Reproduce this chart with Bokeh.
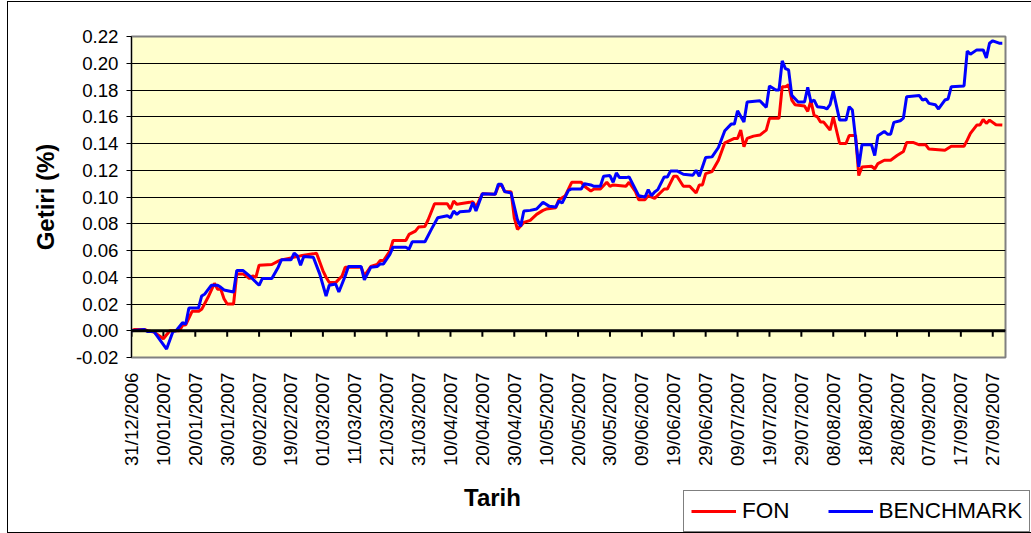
import math
import pandas as pd
from bokeh.plotting import figure
from bokeh.layouts import column
from bokeh.models import (Range1d, FixedTicker, NumeralTickFormatter, DatetimeTickFormatter,
                          Legend, LegendItem, Label, Span)
from bokeh.embed import file_html
from bokeh.resources import INLINE

START = "2006-12-31"

# x tick labels (every 10 days)
tick_labels = ["31/12/2006", "10/01/2007", "20/01/2007", "30/01/2007", "09/02/2007", "19/02/2007",
               "01/03/2007", "11/03/2007", "21/03/2007", "31/03/2007", "10/04/2007", "20/04/2007",
               "30/04/2007", "10/05/2007", "20/05/2007", "30/05/2007", "09/06/2007", "19/06/2007",
               "29/06/2007", "09/07/2007", "19/07/2007", "29/07/2007", "08/08/2007", "18/08/2007",
               "28/08/2007", "07/09/2007", "17/09/2007", "27/09/2007"]
y_ticks = [-0.02, 0.00, 0.02, 0.04, 0.06, 0.08, 0.10, 0.12, 0.14, 0.16, 0.18, 0.20, 0.22]

# FON series: days since START, value
fon_day = [0, 1, 4, 5, 7, 10, 12, 15, 16, 17, 19, 21, 22, 24, 26, 27, 28, 29, 30, 32,
           33, 35, 37, 38, 39, 40, 44, 46, 47, 50, 53, 57, 58, 60, 61, 62, 64, 66, 67, 72,
           73, 75, 77, 78, 79, 81, 82, 86, 87, 89, 90, 92, 93, 95, 99, 100, 101, 102, 103, 106,
           107, 108, 110, 114, 115, 116, 117, 119, 120, 121, 123, 125, 127, 129, 130, 133, 134, 136, 138, 141,
           142, 144, 145, 147, 149, 150, 151, 155, 156, 158, 159, 161, 162, 164, 167, 168, 170, 171, 173, 175,
           177, 178, 179, 180, 182, 184, 186, 189, 190, 191, 192, 193, 195, 197, 199, 200, 203, 204, 205, 206,
           207, 208, 211, 212, 213, 214, 215, 216, 217, 219, 220, 222, 224, 225, 227, 228, 229, 232, 233, 234,
           236, 238, 240, 242, 243, 245, 247, 249, 250, 255, 257, 261, 262, 263, 265, 266, 267, 268, 269, 271,
           273]
fon_val = [0.000, 0.001, 0.001, 0.000, -0.001, -0.006, 0.000, 0.000, 0.004, 0.0045, 0.0145, 0.0145, 0.016, 0.025, 0.0355, 0.031, 0.031, 0.024, 0.020, 0.020,
           0.0425, 0.0425, 0.039, 0.041, 0.040, 0.049, 0.0495, 0.052, 0.053, 0.0545, 0.056, 0.0575, 0.058, 0.045, 0.040, 0.036, 0.036, 0.041, 0.0475, 0.0475,
           0.041, 0.048, 0.0495, 0.0525, 0.0525, 0.0595, 0.0675, 0.0675, 0.072, 0.0745, 0.0775, 0.078, 0.083, 0.095, 0.095, 0.091, 0.097, 0.0945, 0.095, 0.096,
           0.0965, 0.0925, 0.1025, 0.102, 0.108, 0.109, 0.104, 0.104, 0.0845, 0.0758, 0.081, 0.0825, 0.087, 0.090, 0.091, 0.092, 0.098, 0.101, 0.111, 0.111,
           0.108, 0.1045, 0.106, 0.106, 0.111, 0.108, 0.109, 0.108, 0.111, 0.104, 0.098, 0.098, 0.101, 0.099, 0.106, 0.106, 0.1155, 0.1155, 0.108, 0.108,
           0.103, 0.109, 0.109, 0.1175, 0.119, 0.1275, 0.1405, 0.1438, 0.1438, 0.150, 0.1375, 0.1438, 0.1455, 0.1463, 0.150, 0.1588, 0.1588, 0.1825, 0.1825, 0.184,
           0.1725, 0.169, 0.168, 0.164, 0.172, 0.161, 0.160, 0.156, 0.156, 0.150, 0.160, 0.140, 0.140, 0.146, 0.146, 0.116, 0.1225, 0.123, 0.121, 0.125,
           0.1275, 0.1275, 0.131, 0.134, 0.1408, 0.1408, 0.139, 0.139, 0.1358, 0.135, 0.138, 0.138, 0.1425, 0.1475, 0.1538, 0.1538, 0.158, 0.155, 0.1575, 0.154,
           0.1538]

# BENCHMARK series: days since START, value
bench_day = [0, 4, 5, 7, 11, 13, 14, 16, 17, 18, 21, 22, 23, 25, 27, 28, 29, 32, 33, 35,
             37, 40, 41, 44, 46, 47, 50, 51, 52, 53, 54, 57, 59, 61, 62, 64, 65, 66, 67, 68,
             72, 73, 75, 77, 78, 79, 81, 82, 86, 87, 88, 92, 94, 96, 99, 100, 101, 102, 103, 106,
             107, 108, 110, 114, 115, 116, 117, 119, 121, 122, 123, 125, 127, 129, 131, 133, 134, 135, 137, 138,
             141, 142, 144, 145, 147, 148, 150, 151, 152, 153, 155, 156, 159, 161, 162, 163, 164, 165, 167, 168,
             169, 171, 173, 176, 177, 178, 180, 182, 184, 186, 188, 189, 190, 192, 193, 197, 199, 200, 202, 203,
             204, 205, 206, 207, 209, 211, 212, 213, 214, 215, 217, 218, 219, 220, 222, 224, 225, 226, 228, 229,
             232, 233, 234, 236, 237, 238, 239, 241, 242, 243, 247, 248, 249, 250, 252, 253, 255, 256, 257, 261,
             262, 263, 265, 267, 268, 269, 270, 272, 273]
bench_val = [0.000, 0.001, -0.0005, -0.0005, -0.0137, -0.0005, 0.000, 0.006, 0.005, 0.017, 0.017, 0.026, 0.0275, 0.034, 0.034, 0.0325, 0.0305, 0.029, 0.045, 0.045,
             0.041, 0.034, 0.039, 0.039, 0.0475, 0.053, 0.053, 0.058, 0.056, 0.049, 0.0555, 0.055, 0.0425, 0.026, 0.034, 0.035, 0.029, 0.035, 0.041, 0.048,
             0.048, 0.038, 0.0475, 0.048, 0.050, 0.050, 0.057, 0.0625, 0.0625, 0.061, 0.0665, 0.0665, 0.0758, 0.0845, 0.086, 0.0845, 0.0895, 0.087, 0.089, 0.0895,
             0.0958, 0.0895, 0.1025, 0.102, 0.1095, 0.1095, 0.104, 0.103, 0.083, 0.078, 0.0895, 0.090, 0.091, 0.096, 0.093, 0.0925, 0.097, 0.0955, 0.105, 0.106,
             0.106, 0.110, 0.109, 0.108, 0.108, 0.1155, 0.116, 0.111, 0.118, 0.1145, 0.1145, 0.115, 0.101, 0.100, 0.1055, 0.101, 0.1038, 0.1055, 0.115, 0.115,
             0.1195, 0.1195, 0.117, 0.1163, 0.120, 0.1155, 0.1295, 0.130, 0.137, 0.1495, 0.1545, 0.1545, 0.1645, 0.156, 0.171, 0.172, 0.167, 0.183, 0.180, 0.180,
             0.2018, 0.196, 0.195, 0.176, 0.171, 0.171, 0.182, 0.171, 0.1725, 0.1675, 0.167, 0.1658, 0.169, 0.179, 0.1575, 0.1575, 0.1675, 0.165, 0.1225, 0.139,
             0.139, 0.131, 0.1458, 0.149, 0.147, 0.147, 0.1558, 0.157, 0.159, 0.175, 0.1758, 0.1725, 0.1733, 0.170, 0.169, 0.1658, 0.1725, 0.1733, 0.1825, 0.183,
             0.209, 0.2068, 0.210, 0.210, 0.204, 0.215, 0.2168, 0.215, 0.215]

series_names = ["FON", "BENCHMARK"]
series_colors = ["#FF0000", "#0000FF"]

start = pd.Timestamp(START)
fon_x = [start + pd.Timedelta(days=d) for d in fon_day]
bench_x = [start + pd.Timedelta(days=d) for d in bench_day]
tick_dates = [pd.to_datetime(t, format="%d/%m/%Y") for t in tick_labels]
tick_ms = [t.value / 1e6 for t in tick_dates]

FONT = "Liberation Sans"
W = 1023
HA = 478
HB = 52

# ---------------- main chart ----------------
p = figure(width=W, height=HA, x_axis_type="datetime", output_backend="svg",
           toolbar_location=None,
           x_range=Range1d(start, start + pd.Timedelta(days=274)),
           y_range=Range1d(-0.02, 0.22),
           min_border_left=123, min_border_top=34, min_border_right=W - 997, min_border_bottom=HA - 355)
p.frame_align = False
p.background_fill_color = "#FFFFCC"
p.border_fill_color = "white"
p.outline_line_color = "#808080"
p.outline_line_width = 2

p.xgrid.grid_line_color = None
p.ygrid.ticker = FixedTicker(ticks=y_ticks)
p.ygrid.grid_line_color = "black"
p.ygrid.grid_line_width = 1

ya = p.yaxis[0]
ya.ticker = FixedTicker(ticks=y_ticks)
ya.formatter = NumeralTickFormatter(format="0.00")
ya.axis_line_color = "black"
ya.axis_line_width = 1
ya.major_tick_out = 5
ya.major_tick_in = 0
ya.major_tick_line_color = "black"
ya.minor_tick_line_color = None
ya.major_label_standoff = 8
ya.major_label_text_font = FONT
ya.major_label_text_font_size = "18.7px"
ya.major_label_text_color = "black"
ya.axis_label = "Getiri (%)"
ya.axis_label_text_font = FONT
ya.axis_label_text_font_style = "bold"
ya.axis_label_text_font_size = "24px"
ya.axis_label_text_color = "black"
ya.axis_label_standoff = 14

xa = p.xaxis[0]
xa.ticker = FixedTicker(ticks=tick_ms)
fmt = "%d/%m/%Y"
xa.formatter = DatetimeTickFormatter(days=fmt, months=fmt, years=fmt, hours=fmt, hourmin=fmt,
                                     minutes=fmt, minsec=fmt, seconds=fmt, milliseconds=fmt,
                                     microseconds=fmt, context=None)
xa.axis_line_color = None
xa.major_tick_line_color = None
xa.major_tick_out = 0
xa.major_tick_in = 0
xa.minor_tick_line_color = None
xa.major_label_orientation = math.pi / 2
xa.major_label_standoff = 15
xa.major_label_text_font = FONT
xa.major_label_text_font_size = "18.7px"
xa.major_label_text_color = "black"

# zero line with tick marks
p.add_layout(Span(location=0, dimension="width", line_color="black", line_width=3))
tick_len = 0.0045
p.segment(x0=tick_dates, y0=[0.0] * len(tick_dates), x1=tick_dates, y1=[-tick_len] * len(tick_dates),
          line_color="black", line_width=2)

p.line(fon_x, fon_val, line_color=series_colors[0], line_width=3)
p.line(bench_x, bench_val, line_color=series_colors[1], line_width=3)

# ---------------- bottom strip: axis title + legend ----------------
q = figure(width=W, height=HB, output_backend="svg", toolbar_location=None,
           x_range=Range1d(0, W), y_range=Range1d(0, HB),
           x_axis_location=None, y_axis_location=None,
           min_border_left=0, min_border_right=0, min_border_top=0, min_border_bottom=0)
q.frame_align = False
q.outline_line_color = None
q.xgrid.grid_line_color = None
q.ygrid.grid_line_color = None
q.background_fill_color = "white"
q.border_fill_color = "white"

nan = float("nan")
leg_r = [q.line(x=[nan], y=[nan], line_color=c, line_width=3) for c in series_colors]
legend = Legend(items=[LegendItem(label=n, renderers=[r]) for n, r in zip(series_names, leg_r)],
                orientation="horizontal", location=(675, 0),
                label_text_font=FONT, label_text_font_size="22.5px", label_text_color="black",
                glyph_width=45, glyph_height=20, label_standoff=6, spacing=38, padding=7,
                border_line_color="black", border_line_width=1, background_fill_color="white",
                background_fill_alpha=1.0, margin=0)
q.add_layout(legend, "center")

q.add_layout(Label(x=484, y=35, x_units="screen", y_units="screen", text="Tarih",
                   text_font=FONT, text_font_style="bold", text_font_size="24px",
                   text_align="center", text_baseline="middle", text_color="black"))

layout = column(p, q, spacing=0)
layout.styles = {"position": "relative", "left": "8px", "top": "2px", "outline": "1px solid black"}

open("out.html", "w").write(file_html(layout, INLINE))
